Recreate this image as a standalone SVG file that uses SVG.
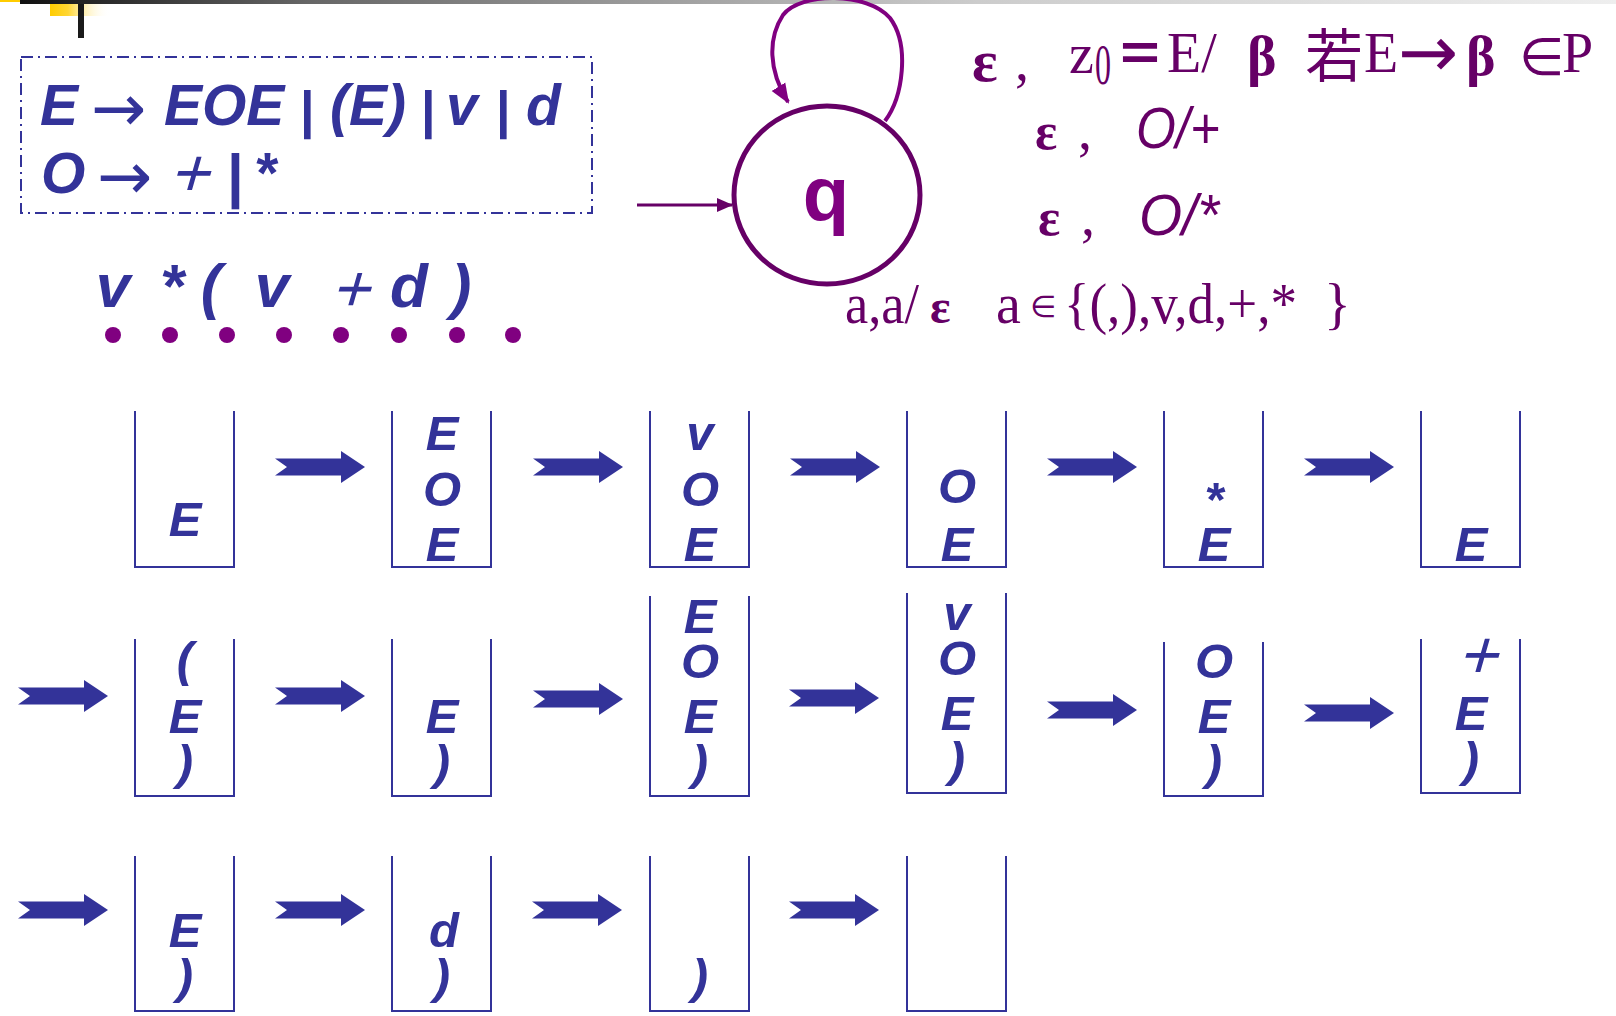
<svg xmlns="http://www.w3.org/2000/svg" xmlns:xlink="http://www.w3.org/1999/xlink" width="1616" height="1016" viewBox="0 0 1616 1016">
<style>
.st{font-family:"Liberation Sans",Arial,sans-serif;font-weight:bold;font-style:italic;font-size:49px;fill:#333399;text-anchor:middle}
.thin{font-family:"Liberation Sans",Arial,sans-serif;font-weight:normal;font-style:normal;fill:#333399}
.box{fill:none;stroke:#333399;stroke-width:2}
.gram{font-family:"Liberation Sans",Arial,sans-serif;font-weight:bold;font-style:italic;font-size:57px;fill:#333399}
.garr{font-family:"DejaVu Sans",sans-serif;font-weight:normal;font-style:normal;font-size:66px;fill:#333399}
.bar{font-family:"Liberation Sans",Arial,sans-serif;font-weight:bold;font-style:normal;fill:#333399}
.lab{font-family:"Liberation Serif","Times New Roman","Noto Sans CJK SC",serif;fill:#660066;font-size:56px}
.elem{font-family:"DejaVu Sans",sans-serif;fill:#660066}
.eps{font-family:"Liberation Serif","Times New Roman",serif;font-weight:bold;fill:#660066}
.dot{fill:#800080}
</style>
<defs>
<linearGradient id="topbar" x1="20" y1="0" x2="1616" y2="0" gradientUnits="userSpaceOnUse">
<stop offset="0" stop-color="#111111"/>
<stop offset="0.18" stop-color="#666666"/>
<stop offset="0.38" stop-color="#999999"/>
<stop offset="0.6" stop-color="#cccccc"/>
<stop offset="1" stop-color="#eeeeee"/>
</linearGradient>
<linearGradient id="yel" x1="0" y1="0" x2="1" y2="0">
<stop offset="0" stop-color="#FFCC00"/>
<stop offset="0.3" stop-color="#FFD633"/>
<stop offset="1" stop-color="#FFFFFF" stop-opacity="0"/>
</linearGradient>
<polygon id="barrow" points="0,-8.5 66,-8.5 66,-16 90,0 66,16 66,8.5 0,8.5 12,0" fill="#333399"/>
<marker id="loopHead" markerWidth="22" markerHeight="18" refX="18" refY="9" orient="auto" markerUnits="userSpaceOnUse">
<polygon points="0,1 20,9 0,17" fill="#800080"/>
</marker>
<marker id="entryHead" markerWidth="16" markerHeight="16" refX="15" refY="8" orient="auto" markerUnits="userSpaceOnUse">
<polygon points="0,1 16,8 0,15" fill="#660066"/>
</marker>
</defs>

<!-- top decoration -->
<rect x="0" y="0" width="20" height="2" fill="#FFCC00"/>
<rect x="20" y="0" width="1596" height="4" fill="url(#topbar)"/>
<rect x="50" y="4" width="60" height="12" fill="url(#yel)"/>
<rect x="78" y="4" width="6" height="34" fill="#1a1a1a"/>

<!-- grammar box -->
<g id="grammar">
<rect x="21" y="57" width="571" height="156" fill="none" stroke="#333399" stroke-width="2" stroke-dasharray="12,5,2,5"/>
<text class="gram" x="40" y="125">E</text>
<text class="garr" x="91" y="131">→</text>
<text class="gram" x="164" y="125">EOE</text>
<text class="bar" x="300" y="128" font-size="52">|</text>
<text class="gram" x="330" y="125">(E)</text>
<text class="bar" x="421" y="128" font-size="52">|</text>
<text class="gram" x="446" y="125">v</text>
<text class="bar" x="496" y="128" font-size="52">|</text>
<text class="gram" x="526" y="125">d</text>
<text class="gram" x="41" y="193">O</text>
<text class="garr" x="97" y="199">→</text>
<text class="thin" transform="translate(168,196) skewX(-16)" font-size="68">+</text>
<text class="bar" x="227" y="196" font-size="60">|</text>
<text class="gram" x="254" y="193">*</text>
</g>

<!-- input string -->
<g id="input">
<g font-family="Liberation Sans, Arial, sans-serif" font-weight="bold" font-style="italic" font-size="62" fill="#333399" text-anchor="middle">
<text x="113" y="307">v</text>
<text x="172" y="307">*</text>
<text x="211" y="307">(</text>
<text x="272" y="307">v</text>
<text x="409" y="307">d</text>
<text x="461" y="307">)</text>
</g>
<text class="thin" transform="translate(349,311) skewX(-16)" font-size="66" text-anchor="middle">+</text>
<circle class="dot" cx="113" cy="335" r="8"/>
<circle class="dot" cx="170" cy="335" r="8"/>
<circle class="dot" cx="227" cy="335" r="8"/>
<circle class="dot" cx="284" cy="335" r="8"/>
<circle class="dot" cx="341" cy="335" r="8"/>
<circle class="dot" cx="399" cy="335" r="8"/>
<circle class="dot" cx="457" cy="335" r="8"/>
<circle class="dot" cx="513" cy="335" r="8"/>
</g>

<!-- PDA state -->
<g id="state-q">
<ellipse cx="827" cy="195" rx="93" ry="89" fill="none" stroke="#660066" stroke-width="5"/>
<text x="826" y="220" font-family="Liberation Sans, Arial, sans-serif" font-weight="bold" font-size="76" fill="#800080" text-anchor="middle">q</text>
</g>

<!-- transition labels -->
<g id="labels">
<text class="eps" x="972" y="81" font-size="60">ε</text>
<text class="lab" x="1015" y="80">,</text>
<text class="lab" x="1069" y="73">z</text>
<text class="lab" x="1095" y="84" font-size="34" textLength="16" lengthAdjust="spacingAndGlyphs">0</text>
<text x="1116" y="74" font-family="Noto Sans CJK SC, sans-serif" font-weight="bold" font-size="56" fill="#660066" textLength="48" lengthAdjust="spacingAndGlyphs">＝</text>
<text class="lab" x="1167" y="72">E/</text>
<text class="lab" x="1247" y="75" font-size="58" font-weight="bold">β</text>
<text x="1305" y="77" font-family="Noto Sans CJK SC, sans-serif" font-size="58" fill="#660066">若</text>
<text class="lab" x="1364" y="72">E</text>
<text x="1398" y="77" font-family="DejaVu Sans, sans-serif" font-size="72" fill="#660066">→</text>
<text class="lab" x="1466" y="75" font-size="58" font-weight="bold">β</text>
<text class="elem" x="1519" y="75" font-size="52">∈</text>
<text class="lab" x="1562" y="72">P</text>

<text class="eps" x="1035" y="149" font-size="52">ε</text>
<text class="lab" x="1078" y="149">,</text>
<text x="1136" y="148" font-family="Liberation Sans, Arial, sans-serif" font-style="italic" font-size="57" fill="#660066" textLength="84" lengthAdjust="spacingAndGlyphs">O/+</text>

<text class="eps" x="1038" y="235" font-size="52">ε</text>
<text class="lab" x="1081" y="235">,</text>
<text x="1139" y="235" font-family="Liberation Sans, Arial, sans-serif" font-style="italic" font-size="57" fill="#660066" textLength="80" lengthAdjust="spacingAndGlyphs">O/*</text>

<text class="lab" x="845" y="323" font-size="64" textLength="74" lengthAdjust="spacingAndGlyphs">a,a/</text>
<text class="eps" x="930" y="323" font-size="48">ε</text>
<text class="lab" x="996" y="323" font-size="64">a</text>
<text class="elem" x="1030" y="317" font-size="30">∈</text>
<text class="lab" x="1064" y="323" font-size="56" textLength="233" lengthAdjust="spacingAndGlyphs">{(,),v,d,+,*</text>
<text class="lab" x="1324" y="323" font-size="56">}</text>
</g>

<!-- stacks -->
<g id="stack-1-1"><path class="box" d="M135 411V567H234V411"/><text class="st" x="185" y="536">E</text></g>
<g id="stack-1-2"><path class="box" d="M392 411V567H491V411"/><text class="st" x="442" y="450">E</text><text class="st" x="442" y="506">O</text><text class="st" x="442" y="561">E</text></g>
<g id="stack-1-3"><path class="box" d="M650 411V567H749V411"/><text class="st" x="700" y="450">v</text><text class="st" x="700" y="506">O</text><text class="st" x="700" y="561">E</text></g>
<g id="stack-1-4"><path class="box" d="M907 411V567H1006V411"/><text class="st" x="957" y="503">O</text><text class="st" x="957" y="561">E</text></g>
<g id="stack-1-5"><path class="box" d="M1164 411V567H1263V411"/><text class="st" x="1214" y="516">*</text><text class="st" x="1214" y="561">E</text></g>
<g id="stack-1-6"><path class="box" d="M1421 411V567H1520V411"/><text class="st" x="1471" y="561">E</text></g>

<g id="stack-2-1"><path class="box" d="M135 639V796H234V639"/><text class="st" x="185" y="676">(</text><text class="st" x="185" y="733">E</text><text class="st" x="185" y="779">)</text></g>
<g id="stack-2-2"><path class="box" d="M392 639V796H491V639"/><text class="st" x="442" y="733">E</text><text class="st" x="442" y="779">)</text></g>
<g id="stack-2-3"><path class="box" d="M650 596V796H749V596"/><text class="st" x="700" y="633">E</text><text class="st" x="700" y="678">O</text><text class="st" x="700" y="733">E</text><text class="st" x="700" y="779">)</text></g>
<g id="stack-2-4"><path class="box" d="M907 593V793H1006V593"/><text class="st" x="957" y="630">v</text><text class="st" x="957" y="675">O</text><text class="st" x="957" y="730">E</text><text class="st" x="957" y="776">)</text></g>
<g id="stack-2-5"><path class="box" d="M1164 642V796H1263V642"/><text class="st" x="1214" y="678">O</text><text class="st" x="1214" y="733">E</text><text class="st" x="1214" y="779">)</text></g>
<g id="stack-2-6"><path class="box" d="M1421 639V793H1520V639"/><text class="thin" transform="translate(1476,678) skewX(-16)" font-size="68" text-anchor="middle">+</text><text class="st" x="1471" y="730">E</text><text class="st" x="1471" y="776">)</text></g>

<g id="stack-3-1"><path class="box" d="M135 856V1011H234V856"/><text class="st" x="185" y="947">E</text><text class="st" x="185" y="993">)</text></g>
<g id="stack-3-2"><path class="box" d="M392 856V1011H491V856"/><text class="st" x="444" y="947" font-size="56">d</text><text class="st" x="442" y="993">)</text></g>
<g id="stack-3-3"><path class="box" d="M650 856V1011H749V856"/><text class="st" x="700" y="993">)</text></g>
<g id="stack-3-4"><path class="box" d="M907 856V1011H1006V856"/></g>

<!-- connectors -->
<g id="connectors">
<path d="M637 205H732" fill="none" stroke="#660066" stroke-width="3" marker-end="url(#entryHead)"/>
<path d="M885 121C903 97 910 45 890 18C868 -8 800 -8 783 15C768 38 768 70 788 102" fill="none" stroke="#800080" stroke-width="4" marker-end="url(#loopHead)"/>
<use xlink:href="#barrow" x="275" y="467"/>
<use xlink:href="#barrow" x="533" y="467"/>
<use xlink:href="#barrow" x="790" y="467"/>
<use xlink:href="#barrow" x="1047" y="467"/>
<use xlink:href="#barrow" x="1304" y="467"/>
<use xlink:href="#barrow" x="18" y="696"/>
<use xlink:href="#barrow" x="275" y="696"/>
<use xlink:href="#barrow" x="533" y="699"/>
<use xlink:href="#barrow" x="789" y="698"/>
<use xlink:href="#barrow" x="1047" y="710"/>
<use xlink:href="#barrow" x="1304" y="713"/>
<use xlink:href="#barrow" x="18" y="910"/>
<use xlink:href="#barrow" x="275" y="910"/>
<use xlink:href="#barrow" x="532" y="910"/>
<use xlink:href="#barrow" x="789" y="910"/>
</g>
</svg>
